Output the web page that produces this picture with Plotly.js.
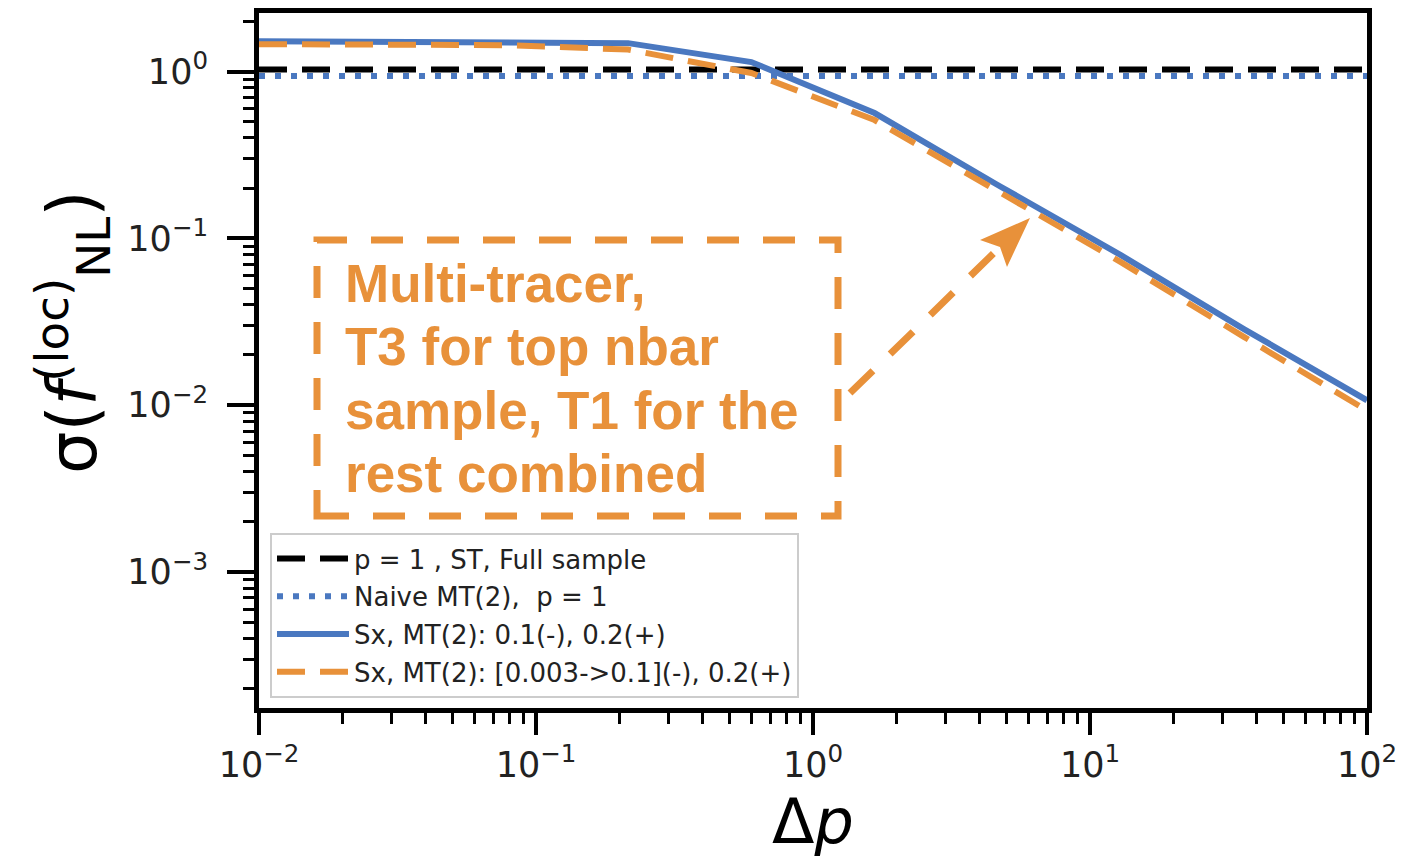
<!DOCTYPE html>
<html>
<head>
<meta charset="utf-8">
<script src="https://cdn.plot.ly/plotly-3.0.1.min.js"></script>
<style>html,body{margin:0;padding:0;background:#fff;}#chart{width:1403px;height:863px;}</style>
</head>
<body>
<div id="chart"></div>
<script>
// ---- data ----
const deltaP = [0.01, 0.0278, 0.0774, 0.215, 0.599, 1.668, 4.642, 12.92, 35.94, 100];
const sxConst = [1.52, 1.51, 1.50, 1.48, 1.14, 0.564, 0.209, 0.0794, 0.0286, 0.0107];
const sxVar = [1.46, 1.45, 1.44, 1.355, 0.98, 0.512, 0.19, 0.072, 0.0257, 0.0093];
const refX = [0.01, 100];
const stFull = [1.03, 1.03];
const naiveMT = [0.94, 0.94];
const names = [
  "p = 1 , ST, Full sample",
  "Naive MT(2),  p = 1",
  "Sx, MT(2): 0.1(-), 0.2(+)",
  "Sx, MT(2): [0.003->0.1](-), 0.2(+)"
];
const xTickVals = [0.01, 0.1, 1, 10, 100];
const xTickText = ["10<sup>\u22122</sup>", "10<sup>\u22121</sup>", "10<sup>0</sup>", "10<sup>1</sup>", "10<sup>2</sup>"];
const yTickVals = [0.001, 0.01, 0.1, 1];
const yTickText = ["10<sup>\u22123</sup>", "10<sup>\u22122</sup>", "10<sup>\u22121</sup>", "10<sup>0</sup>"];
const xMinorVals = [0.02, 0.03, 0.04, 0.05, 0.06, 0.07, 0.08, 0.09,
                    0.2, 0.3, 0.4, 0.5, 0.6, 0.7, 0.8, 0.9,
                    2, 3, 4, 5, 6, 7, 8, 9,
                    20, 30, 40, 50, 60, 70, 80, 90];
const yMinorVals = [0.0002, 0.0003, 0.0004, 0.0005, 0.0006, 0.0007, 0.0008, 0.0009,
                    0.002, 0.003, 0.004, 0.005, 0.006, 0.007, 0.008, 0.009,
                    0.02, 0.03, 0.04, 0.05, 0.06, 0.07, 0.08, 0.09,
                    0.2, 0.3, 0.4, 0.5, 0.6, 0.7, 0.8, 0.9, 2];
const noteLines = ["Multi-tracer,", "T3 for top nbar", "sample, T1 for the", "rest combined"];

// ---- layout helpers ----
const L = 259, R = 1367, T = 13, B = 708;
const W = R - L, H = B - T;
const px = v => (v - L) / W;
const py = v => (B - v) / H;

const BLUE = "#4a78c0";
const ORANGE = "#e8913a";

const traces = [
  {x: refX, y: stFull, name: names[0], mode: "lines", legendgroup: "a",
   line: {color: "#000", width: 6, dash: "28px,15px"}},
  {x: refX, y: naiveMT, name: names[1], mode: "lines", legendgroup: "b",
   line: {color: BLUE, width: 6, dash: "6px,10px"}},
  {x: deltaP, y: sxConst, name: names[2], mode: "lines", legendgroup: "c",
   line: {color: BLUE, width: 6}},
  {x: deltaP, y: sxVar, name: names[3], mode: "lines", legendgroup: "d",
   line: {color: ORANGE, width: 6, dash: "28px,15px"}}
];

const noteY = [283, 346, 410, 473];
const annotations = noteLines.map((t, i) => ({
  xref: "paper", yref: "paper", x: px(343), y: py(noteY[i]),
  xanchor: "left", yanchor: "middle", showarrow: false,
  text: "<b>" + t + "</b>",
  font: {family: "Liberation Sans, Arial, sans-serif", size: 53, color: ORANGE}
}));
annotations.push({
  xref: "paper", yref: "paper", x: px(72), y: py(332),
  xanchor: "center", yanchor: "middle", showarrow: false, textangle: -90,
  text: "\u03c3(<i>f</i><sup>(loc)</sup><sub>NL</sub>)",
  font: {family: "DejaVu Sans, sans-serif", size: 67, color: "#000"}
});

const shapes = [
  {type: "rect", xref: "paper", yref: "paper",
   x0: px(317), x1: px(838), y0: py(516), y1: py(240),
   line: {color: ORANGE, width: 7, dash: "32px,24px"}, fillcolor: "rgba(0,0,0,0)"},
  {type: "line", xref: "paper", yref: "paper",
   x0: px(850), y0: py(393), x1: px(996), y1: py(251),
   line: {color: ORANGE, width: 7, dash: "32px,24px"}},
  {type: "path", xref: "paper", yref: "paper",
   path: "M" + px(1030) + "," + py(218) + " L" + px(980) + "," + py(240) +
         " L" + px(1000) + "," + py(247) + " L" + px(1007) + "," + py(267) + " Z",
   line: {color: ORANGE, width: 0}, fillcolor: ORANGE}
];

const axisCommon = {
  type: "log", showgrid: false, zeroline: false,
  showline: true, linecolor: "#000", linewidth: 5, mirror: true,
  ticks: "outside", tickwidth: 4, tickcolor: "#000",
  tickmode: "array",
  tickfont: {family: "DejaVu Sans, sans-serif", size: 35, color: "#222"}
};

const layout = {
  width: 1403, height: 863,
  margin: {l: L, r: 1403 - R, t: T, b: 863 - B},
  paper_bgcolor: "#fff", plot_bgcolor: "#fff",
  showlegend: true,
  xaxis: Object.assign({}, axisCommon, {
    range: [-2, 2], tickvals: xTickVals, ticktext: xTickText, ticklen: 22,
    minor: {tickmode: "array", tickvals: xMinorVals, ticks: "outside", ticklen: 11,
            tickwidth: 3, tickcolor: "#000", showgrid: false},
    title: {text: "\u0394<i>p</i>", standoff: 14,
            font: {family: "DejaVu Sans, sans-serif", size: 62, color: "#000"}}
  }),
  yaxis: Object.assign({}, axisCommon, {
    range: [-3.815, 0.351], tickvals: yTickVals, ticktext: yTickText, ticklen: 27,
    ticklabelstandoff: 12,
    minor: {tickmode: "array", tickvals: yMinorVals, ticks: "outside", ticklen: 11,
            tickwidth: 3, tickcolor: "#000", showgrid: false}
  }),
  legend: {
    x: px(270), y: py(533), xref: "paper", yref: "paper",
    xanchor: "left", yanchor: "top",
    bgcolor: "rgba(255,255,255,0.85)", bordercolor: "#ccc", borderwidth: 2,
    font: {family: "DejaVu Sans, sans-serif", size: 26, color: "#222"},
    traceorder: "grouped", tracegroupgap: 1, itemwidth: 72
  },
  annotations: annotations,
  shapes: shapes
};

Plotly.newPlot("chart", traces, layout, {displayModeBar: false, staticPlot: true});
</script>
</body>
</html>
